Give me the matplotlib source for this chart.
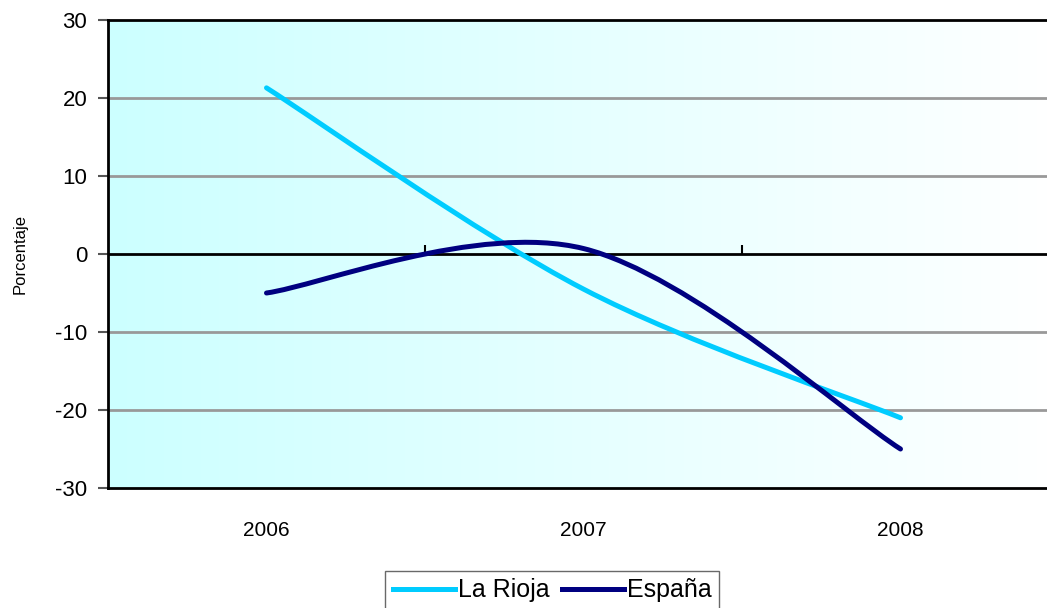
import numpy as np
import matplotlib.pyplot as plt
from matplotlib.path import Path
from matplotlib.patches import PathPatch
from matplotlib.lines import Line2D
from matplotlib.colors import LinearSegmentedColormap

years = ['2006', '2007', '2008']
la_rioja = [21.3, -4.5, -21.0]
espana = [-5.0, 0.7, -25.0]

plt.rcParams['font.family'] = ['Liberation Sans', 'DejaVu Sans']
plt.rcParams['axes.unicode_minus'] = False


def smooth_path(xs, ys):
    # Excel-like smoothed line: cubic Bezier with Catmull-Rom control points
    pts = np.column_stack([xs, ys]).astype(float)
    n = len(pts)
    verts = [pts[0]]
    codes = [Path.MOVETO]
    for i in range(n - 1):
        p_prev = pts[max(i - 1, 0)]
        p0, p1 = pts[i], pts[i + 1]
        p_next = pts[min(i + 2, n - 1)]
        c1 = p0 + (p1 - p_prev) / 6.0
        c2 = p1 - (p_next - p0) / 6.0
        verts += [c1, c2, p1]
        codes += [Path.CURVE4] * 3
    return Path(verts, codes)


def main():
    fig = plt.figure(figsize=(10.47, 6.08), dpi=100)
    ax = fig.add_axes([108 / 1047, 120 / 608, 951 / 1047, 468 / 608])

    x = np.arange(len(years))
    ax.set_xlim(-0.5, len(years) - 0.5)
    ax.set_ylim(-30, 30)

    # gradient background
    cmap = LinearSegmentedColormap.from_list('bg', ['#ccffff', '#ffffff'])
    grad = np.linspace(0, 1, 256).reshape(1, -1)
    ax.imshow(grad, cmap=cmap, aspect='auto', extent=[-0.5, 2.5, -30, 30], zorder=0)

    for yv in [-20, -10, 10, 20]:
        ax.axhline(yv, color='#999999', lw=2, zorder=1)
    ax.axhline(0, color='black', lw=2, zorder=2)
    ax.vlines([0.5, 1.5], 0, 1.1, color='black', lw=1.5, zorder=2)

    for vals, col in [(la_rioja, '#00ccff'), (espana, '#000080')]:
        patch = PathPatch(smooth_path(x, vals), facecolor='none', edgecolor=col,
                          lw=3.6, capstyle='round', zorder=3)
        ax.add_patch(patch)

    ax.set_yticks([-30, -20, -10, 0, 10, 20, 30])
    ax.tick_params(axis='y', labelsize=16, length=7, width=1.5, color='#555555', pad=8)
    ax.set_xticks(x)
    ax.set_xticklabels(years)
    ax.tick_params(axis='x', labelsize=15, length=0, pad=24)
    ax.set_ylabel('Porcentaje', fontsize=12, labelpad=20)

    for s in ['left', 'top', 'bottom', 'right']:
        ax.spines[s].set_linewidth(2)
        ax.spines[s].set_color('black')

    handles = [Line2D([], [], color='#00ccff', lw=3.6),
               Line2D([], [], color='#000080', lw=3.6)]
    leg = fig.legend(handles, ['La Rioja', 'España'], loc='upper center',
                     bbox_to_anchor=(552 / 1047, 37 / 608), ncol=2, fontsize=18,
                     frameon=True, fancybox=False, handlelength=2.5,
                     handletextpad=0.1, columnspacing=0.5, borderpad=0.3,
                     borderaxespad=0)
    leg.get_frame().set_edgecolor('#444444')
    leg.get_frame().set_linewidth(1)

    fig.savefig('out.png', dpi=100)


if __name__ == "__main__":
    main()
